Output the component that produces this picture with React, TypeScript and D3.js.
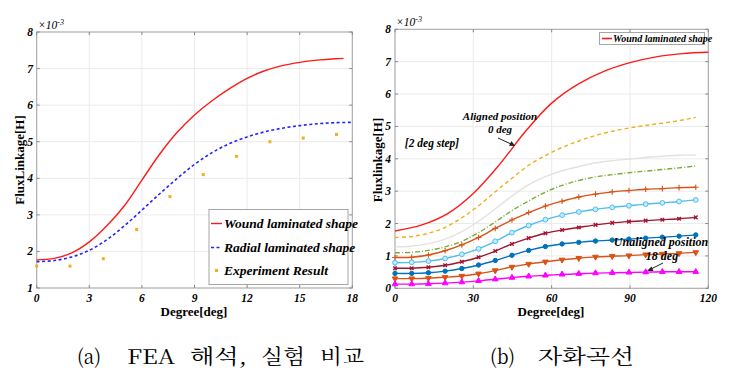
import React from "react";
import * as d3 from "d3";

// ---------- Data: (a) FEA vs experiment ----------
const degA = [0, 1, 2, 3, 4, 5, 6, 7, 8, 9, 10, 11, 12, 13, 14, 15, 16, 17, 17.5];
const woundA = [1.77, 1.81, 1.96, 2.26, 2.7, 3.25, 3.95, 4.65, 5.25, 5.73, 6.12, 6.45, 6.73, 6.94, 7.08, 7.17, 7.23, 7.27, 7.28];
const degRadial = [0, 1, 2, 3, 4, 5, 6, 7, 8, 9, 10, 11, 12, 13, 14, 15, 16, 17, 18];
const radialA = [1.72, 1.75, 1.85, 2.03, 2.32, 2.7, 3.13, 3.57, 3.99, 4.38, 4.7, 4.95, 5.13, 5.27, 5.37, 5.44, 5.49, 5.52, 5.53];
const degExp = [0, 1.9, 3.8, 5.7, 7.6, 9.5, 11.4, 13.3, 15.2, 17.1];
const expA = [1.6, 1.6, 1.8, 2.6, 3.5, 4.1, 4.6, 5.0, 5.1, 5.2];
const xTicksA = [0, 3, 6, 9, 12, 15, 18];
const yTicksA = [1, 2, 3, 4, 5, 6, 7, 8];
const legendA = ["Wound laminated shape", "Radial laminated shape", "Experiment Result"];

// ---------- Data: (b) magnetization curves ----------
const degRed = [0, 10, 20, 30, 40, 50, 60, 70, 80, 90, 100, 110, 120];
const woundB = [1.77, 1.95, 2.3, 2.93, 3.82, 4.85, 5.72, 6.3, 6.7, 6.97, 7.15, 7.25, 7.29];
const degB = [0, 6.4, 12.8, 19.2, 25.6, 32, 38.4, 44.8, 51.2, 57.6, 64, 70.4, 76.8, 83.2, 89.6, 96, 102.4, 108.8, 115.2];
const s2 = [1.57, 1.6, 1.7, 1.88, 2.18, 2.55, 2.98, 3.4, 3.8, 4.1, 4.35, 4.55, 4.72, 4.85, 4.95, 5.03, 5.1, 5.18, 5.28];
const s4 = [1.28, 1.3, 1.38, 1.52, 1.75, 2.07, 2.45, 2.85, 3.2, 3.45, 3.63, 3.76, 3.87, 3.94, 3.99, 4.04, 4.08, 4.11, 4.11];
const s6 = [1.1, 1.11, 1.17, 1.28, 1.45, 1.72, 2.05, 2.4, 2.7, 2.97, 3.18, 3.33, 3.44, 3.51, 3.57, 3.62, 3.67, 3.72, 3.78];
const s8 = [0.95, 0.96, 1.03, 1.16, 1.34, 1.57, 1.85, 2.11, 2.34, 2.54, 2.69, 2.82, 2.91, 2.98, 3.02, 3.06, 3.08, 3.11, 3.12];
const s10 = [0.79, 0.8, 0.84, 0.92, 1.05, 1.22, 1.45, 1.72, 1.94, 2.12, 2.26, 2.36, 2.44, 2.5, 2.55, 2.6, 2.64, 2.68, 2.73];
const s12 = [0.62, 0.62, 0.65, 0.71, 0.82, 0.96, 1.15, 1.37, 1.55, 1.7, 1.8, 1.88, 1.96, 2.02, 2.06, 2.09, 2.12, 2.15, 2.19];
const s14 = [0.46, 0.46, 0.48, 0.53, 0.61, 0.72, 0.86, 1.02, 1.17, 1.29, 1.37, 1.42, 1.46, 1.49, 1.52, 1.55, 1.58, 1.61, 1.65];
const s16 = [0.3, 0.3, 0.31, 0.34, 0.38, 0.45, 0.55, 0.66, 0.75, 0.82, 0.88, 0.93, 0.97, 0.99, 1.01, 1.04, 1.06, 1.08, 1.11];
const s18 = [0.13, 0.13, 0.14, 0.16, 0.19, 0.23, 0.28, 0.33, 0.37, 0.4, 0.43, 0.45, 0.47, 0.48, 0.49, 0.5, 0.51, 0.51, 0.51];
const xTicksB = [0, 30, 60, 90, 120];
const yTicksB = [0, 1, 2, 3, 4, 5, 6, 7, 8];

const FONT = "Liberation Serif";
const KFONT = "Noto Serif CJK KR";

type Series = { vals: number[]; color: string; dash?: string; marker?: string };
const seriesB: Series[] = [
  { vals: s2, color: "#EDB120", dash: "4,3" },
  { vals: s4, color: "#E2E2E2" },
  { vals: s6, color: "#77AC30", dash: "5,2,1,2" },
  { vals: s8, color: "#D95319", marker: "plus" },
  { vals: s10, color: "#4DBEEE", marker: "circleOpen" },
  { vals: s12, color: "#A2142F", marker: "times" },
  { vals: s14, color: "#0072BD", marker: "circle" },
  { vals: s16, color: "#D95319", marker: "triDown" },
  { vals: s18, color: "#FF00FF", marker: "tri" },
];

function Marker({ kind, x, y, color }: { kind: string; x: number; y: number; color: string }) {
  let sym: any = d3.symbolCircle;
  let size = 16;
  let fill = color;
  let rot = 0;
  let sw = 1;
  if (kind === "plus") { sym = d3.symbolPlus; size = 12; fill = "none"; sw = 1.1; }
  if (kind === "times") { sym = d3.symbolTimes; size = 10; fill = "none"; sw = 1.4; }
  if (kind === "circleOpen") { sym = d3.symbolCircle; size = 18; fill = "#c4ecfb"; }
  if (kind === "circle") { sym = d3.symbolCircle; size = 15; }
  if (kind === "tri") { sym = d3.symbolTriangle; size = 14; }
  if (kind === "triDown") { sym = d3.symbolTriangle; size = 14; rot = 180; }
  const p = d3.symbol().type(sym).size(size)() as string;
  return <path d={p} transform={`translate(${x},${y}) rotate(${rot})`} fill={fill} stroke={color} strokeWidth={sw} />;
}

function T(props: any) {
  const { bold = true, italic = true, ...rest } = props;
  return <text fontFamily={FONT} fontWeight={bold ? "bold" : "normal"} fontStyle={italic ? "italic" : "normal"} {...rest} />;
}

function ChartA() {
  const x = d3.scaleLinear().domain([0, 18]).range([36.7, 352.3]);
  const y = d3.scaleLinear().domain([1, 8]).range([288, 32]);
  const line = d3.line<[number, number]>().x((d) => x(d[0])).y((d) => y(d[1])).curve(d3.curveCatmullRom.alpha(0.5));
  const wound = line(degA.map((d, i) => [d, woundA[i]]))!;
  const radial = line(degRadial.map((d, i) => [d, radialA[i]]))!;
  const [x0, x1] = x.range();
  const [y0, y1] = y.range();
  return (
    <g>
      {xTicksA.map((t) => <line key={"gx" + t} x1={x(t)} x2={x(t)} y1={y1} y2={y0} stroke="#ebebeb" />)}
      {yTicksA.map((t) => <line key={"gy" + t} x1={x0} x2={x1} y1={y(t)} y2={y(t)} stroke="#ebebeb" />)}
      <rect x={x0} y={y1} width={x1 - x0} height={y0 - y1} fill="none" stroke="#a6a6a6" />
      {xTicksA.map((t) => (
        <g key={"tx" + t}>
          <line x1={x(t)} x2={x(t)} y1={y0} y2={y0 - 3} stroke="#888" />
          <line x1={x(t)} x2={x(t)} y1={y1} y2={y1 + 3} stroke="#888" />
          <T x={x(t)} y={302} textAnchor="middle" fontSize={11.5}>{t}</T>
        </g>
      ))}
      {yTicksA.map((t) => (
        <g key={"ty" + t}>
          <line x1={x0} x2={x0 + 3} y1={y(t)} y2={y(t)} stroke="#888" />
          <line x1={x1} x2={x1 - 3} y1={y(t)} y2={y(t)} stroke="#888" />
          <T x={33} y={y(t) + 4} textAnchor="end" fontSize={11.5}>{t}</T>
        </g>
      ))}
      <T x={38} y={29} bold={false} fontSize={11.5}>×10<tspan dy={-4} fontSize={8}>-3</tspan></T>
      <path d={radial} fill="none" stroke="#2424ff" strokeWidth={1.6} strokeDasharray="3,2.5" />
      <path d={wound} fill="none" stroke="#ff1a1a" strokeWidth={1.4} />
      {degExp.map((d, i) => (
        <rect key={"e" + i} x={x(d) - 1.5} y={y(expA[i]) - 1.5} width={3} height={3} fill="#EDB120" />
      ))}
      <T x={194} y={316} italic={false} textAnchor="middle" fontSize={13}>Degree[deg]</T>
      <T transform="translate(24,160) rotate(-90)" italic={false} textAnchor="middle" fontSize={13}>FluxLinkage[H]</T>
      <rect x={209} y={209.5} width={139} height={75} fill="white" stroke="#a6a6a6" />
      <line x1={211} x2={222} y1={223.5} y2={223.5} stroke="#ff1a1a" strokeWidth={1.4} />
      <line x1={211} x2={222} y1={247.5} y2={247.5} stroke="#2424ff" strokeWidth={1.6} strokeDasharray="3,2.5" />
      <rect x={215} y={269} width={3} height={3} fill="#EDB120" />
      {legendA.map((s, i) => (
        <T key={s} x={224} y={[228, 252, 275][i]} fontSize={13.5}>{s}</T>
      ))}
    </g>
  );
}

function ChartB() {
  const x = d3.scaleLinear().domain([0, 120]).range([395, 708.3]);
  const y = d3.scaleLinear().domain([0, 8]).range([288.3, 29.3]);
  const line = d3.line<[number, number]>().x((d) => x(d[0])).y((d) => y(d[1])).curve(d3.curveCatmullRom.alpha(0.5));
  const [x0, x1] = x.range();
  const [y0, y1] = y.range();
  const red = line(degRed.map((d, i) => [d, woundB[i]]))!;
  return (
    <g>
      {xTicksB.map((t) => <line key={"gx" + t} x1={x(t)} x2={x(t)} y1={y1} y2={y0} stroke="#ebebeb" />)}
      {yTicksB.map((t) => <line key={"gy" + t} x1={x0} x2={x1} y1={y(t)} y2={y(t)} stroke="#ebebeb" />)}
      <rect x={x0} y={y1} width={x1 - x0} height={y0 - y1} fill="none" stroke="#a6a6a6" />
      {xTicksB.map((t) => (
        <g key={"tx" + t}>
          <line x1={x(t)} x2={x(t)} y1={y0} y2={y0 - 3} stroke="#888" />
          <line x1={x(t)} x2={x(t)} y1={y1} y2={y1 + 3} stroke="#888" />
          <T x={x(t)} y={302} textAnchor="middle" fontSize={11.5}>{t}</T>
        </g>
      ))}
      {yTicksB.map((t) => (
        <g key={"ty" + t}>
          <line x1={x0} x2={x0 + 3} y1={y(t)} y2={y(t)} stroke="#888" />
          <line x1={x1} x2={x1 - 3} y1={y(t)} y2={y(t)} stroke="#888" />
          <T x={391} y={y(t) + 4} textAnchor="end" fontSize={11.5}>{t}</T>
        </g>
      ))}
      <T x={396} y={26} bold={false} fontSize={11.5}>×10<tspan dy={-4} fontSize={8}>-3</tspan></T>
      {seriesB.map((s, k) => {
        const pts = degB.map((d, i) => [d, s.vals[i]] as [number, number]);
        return (
          <g key={"s" + k}>
            <path d={line(pts)!} fill="none" stroke={s.color} strokeWidth={1.4} strokeDasharray={s.dash} />
            {s.marker && pts.map((p, i) => <Marker key={i} kind={s.marker!} x={x(p[0])} y={y(p[1])} color={s.color} />)}
          </g>
        );
      })}
      <path d={red} fill="none" stroke="#ff1a1a" strokeWidth={1.4} />
      <T x={551} y={316} italic={false} textAnchor="middle" fontSize={13}>Degree[deg]</T>
      <T transform="translate(382,160) rotate(-90)" italic={false} textAnchor="middle" fontSize={13}>Fluxlinkage[H]</T>
      <rect x={599.5} y={32.5} width={105} height={12} fill="white" stroke="#a6a6a6" />
      <line x1={602} x2={612} y1={38.5} y2={38.5} stroke="#ff1a1a" strokeWidth={1.6} />
      <T x={613} y={42} fontSize={10}>Wound laminated shape</T>
      <T x={500} y={120} textAnchor="middle" fontSize={11}>Aligned position</T>
      <T x={500} y={133} textAnchor="middle" fontSize={11}>0 deg</T>
      <line x1={498} y1={138} x2={512} y2={144.5} stroke="#222" strokeWidth={1} />
      <path d="M515,146 L509,145.8 L511.5,141 Z" fill="#222" />
      <T x={432} y={147} textAnchor="middle" fontSize={11.5}>[2 deg step]</T>
      <T x={661} y={246} textAnchor="middle" fontSize={12}>Unaligned position</T>
      <T x={662} y={260} textAnchor="middle" fontSize={12}>18 deg</T>
      <line x1={663} y1={263} x2={650} y2={269.5} stroke="#222" strokeWidth={1} />
      <path d="M647,271 L651.5,266.5 L653.5,271 Z" fill="#222" />
    </g>
  );
}

const captions = [
  { t: "(a)", x: 77, w: 24 },
  { t: "FEA", x: 127, w: 48 },
  { t: "해석,", x: 190, w: 57 },
  { t: "실험", x: 261, w: 44 },
  { t: "비교", x: 320, w: 44 },
  { t: "(b)", x: 490, w: 25 },
  { t: "자화곡선", x: 538, w: 96 },
];

export default function App() {
  return (
    <svg width={733} height={383} style={{ position: "absolute", left: 0, top: 0, background: "white" }}>
      <rect x={0} y={0} width={733} height={383} fill="white" />
      <ChartA />
      <ChartB />
      {captions.map((c) => (
        <text key={c.t} x={c.x} y={364} fontFamily={KFONT} fontSize={20} textLength={c.w} lengthAdjust="spacingAndGlyphs">{c.t}</text>
      ))}
    </svg>
  );
}
